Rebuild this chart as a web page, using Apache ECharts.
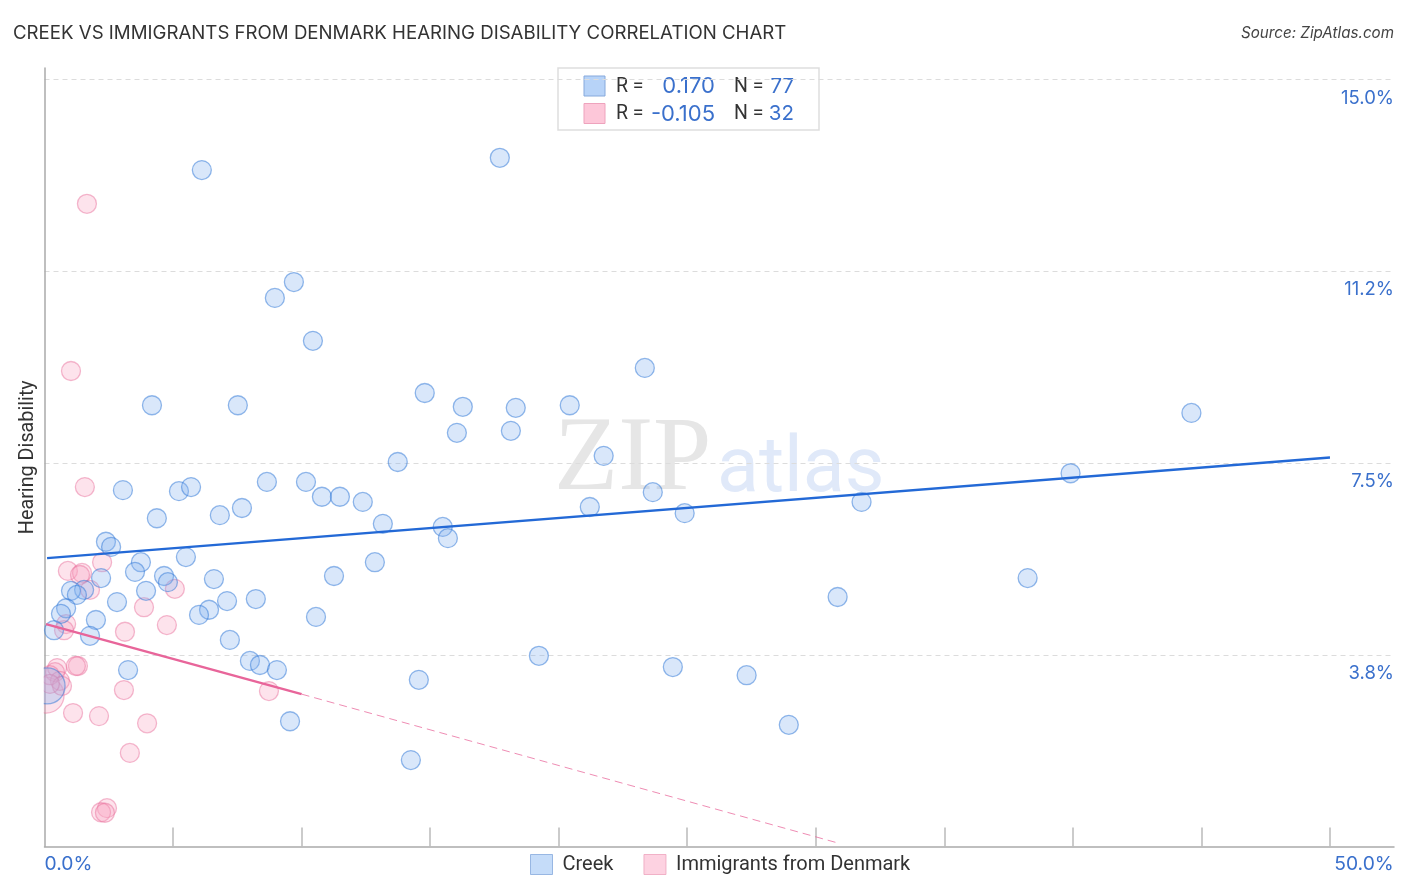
<!DOCTYPE html>
<html>
<head>
<meta charset="utf-8">
<style>
  html, body { margin: 0; padding: 0; background: #fff; }
  #main { width: 1406px; height: 892px; }
</style>
<script src="https://cdn.jsdelivr.net/npm/echarts@6/dist/echarts.min.js"></script>
</head>
<body>
<div id="main"></div>
<script>
// values: [x %, y %]
const creekPoints = [
  [6.12,13.23],[17.71,13.47],[9.70,11.04],[8.96,10.73],[10.44,9.89],[23.35,9.36],[14.79,8.87],[4.18,8.63],
  [7.52,8.63],[16.27,8.60],[18.33,8.58],[20.43,8.63],[44.61,8.48],[16.04,8.09],[18.14,8.13],[13.74,7.52],
  [21.75,7.64],[3.05,6.97],[5.23,6.95],[5.70,7.03],[8.65,7.13],[10.17,7.13],[10.79,6.84],[11.49,6.84],
  [12.38,6.74],[23.66,6.93],[39.91,7.30],[7.68,6.62],[6.82,6.48],[4.37,6.42],[21.21,6.64],[24.90,6.52],
  [31.78,6.74],[13.16,6.31],[15.49,6.25],[15.69,6.03],[2.39,5.96],[2.59,5.86],[3.75,5.56],[5.50,5.66],
  [12.85,5.56],[3.52,5.37],[4.65,5.29],[4.80,5.17],[6.59,5.23],[11.26,5.29],[38.24,5.25],[2.20,5.25],
  [3.95,5.00],[1.54,5.02],[1.03,5.00],[1.26,4.92],[0.84,4.66],[0.64,4.55],[2.82,4.78],[6.40,4.63],
  [6.01,4.53],[7.10,4.80],[8.22,4.84],[10.56,4.49],[30.85,4.88],[0.37,4.23],[2.00,4.43],[1.77,4.12],
  [7.21,4.04],[7.99,3.63],[8.38,3.55],[9.04,3.45],[3.25,3.45],[19.23,3.73],[24.44,3.51],[27.31,3.35],
  [14.56,3.26],[9.55,2.45],[28.95,2.38],[14.25,1.69]
];
const denmarkPoints = [
  [1.65,12.57],[1.03,9.30],[1.57,7.03],[2.24,5.56],[0.91,5.39],[1.46,5.35],[1.38,5.31],[1.77,5.02],
  [5.07,5.04],[3.87,4.68],[0.84,4.35],[0.76,4.23],[4.76,4.33],[3.13,4.20],[1.30,3.53],[1.22,3.53],
  [0.49,3.49],[0.41,3.41],[0.60,3.24],[0.21,3.35],[0.68,3.14],[0.21,3.18],[3.09,3.06],[8.73,3.04],
  [1.11,2.61],[2.12,2.55],[3.99,2.41],[3.32,1.83],[2.43,0.75],[2.20,0.67],[2.35,0.66]
];
// the big pooled dots on the axis
const creekBig = [[0.1,3.14]];
const denmarkBig = [[0.06,2.96]];

const creekTrend = [[0.1,5.64],[50,7.61]];
const denmarkTrend = [[0.06,4.35],[10,2.98]];
const denmarkTrendExt = [[10,2.98],[30.85,0.07]];

const yTickValues = [3.75,7.5,11.25,15];
const yTickLabels = ['3.8%','7.5%','11.2%','15.0%'];
const xTickValues = [5,10,15,20,25,30,35,40,45,50];
const xLabelValues = [0,50];
const xLabelTexts = ['0.0%','50.0%'];

const seriesNames = ['Creek','Immigrants from Denmark'];
const statR = ['0.170','-0.105'];
const statN = ['77','32'];

const chartTitle = 'CREEK VS IMMIGRANTS FROM DENMARK HEARING DISABILITY CORRELATION CHART';
const sourceText = 'Source: ZipAtlas.com';

const FONT = 'Inter, Roboto, sans-serif';
const LABEL_FONT = 'Roboto, sans-serif';
const BLUE_TEXT = '#3a70cc';
const SWATCH = [['#b7d3f8','#86a9dc'],['#fdc7d9','#eea3bd']];
const PINK_DOT = { color: 'rgba(250,165,192,0.38)', borderColor: 'rgba(232,110,155,0.6)', borderWidth: 1.3 };
const BLUE_DOT = { color: 'rgba(130,175,240,0.38)', borderColor: 'rgba(50,120,215,0.65)', borderWidth: 1.3 };

var myChart = echarts.init(document.getElementById('main'));

// stats box in the top middle
function statsBox() {
  const items = [{
    type: 'rect',
    shape: { x: 558, y: 68, width: 261, height: 62 },
    style: { fill: '#fff', stroke: '#dedede', lineWidth: 1.5 }
  }];
  [0, 1].forEach(function (i) {
    const cy = 87 + i * 27.5;
    items.push({ type: 'rect', shape: { x: 584, y: cy - 11, width: 21, height: 20 }, style: { fill: SWATCH[i][0], stroke: SWATCH[i][1], lineWidth: 1 } });
    const txt = function (x, y, text, fill, align, font) {
      return { type: 'text', x: x, y: y, style: { text: text, fill: fill, font: font, align: align, verticalAlign: 'middle' } };
    };
    items.push(txt(616, cy, 'R =', '#333', 'left', '400 19.5px ' + LABEL_FONT));
    items.push(txt(715, cy - 0.5, statR[i], BLUE_TEXT, 'right', '400 22px ' + FONT));
    items.push(txt(734, cy, 'N =', '#333', 'left', '400 19.5px ' + LABEL_FONT));
    items.push(txt(794, cy - 0.5, statN[i], BLUE_TEXT, 'right', '400 20.5px ' + FONT));
  });
  return items;
}

var option = {
  animation: false,
  textStyle: { fontFamily: FONT },
  title: [
    { text: chartTitle, left: 13, top: 24, padding: 0, textStyle: { fontFamily: FONT, fontSize: 18.65, fontWeight: 400, color: '#333' } },
    { text: sourceText, right: 12, top: 26, padding: 0, textStyle: { fontFamily: FONT, fontSize: 15.2, fontWeight: 400, fontStyle: 'italic', color: '#444' } }
  ],
  legend: {
    left: 530,
    top: 854,
    padding: 0,
    itemWidth: 22,
    itemHeight: 20,
    itemGap: 30,
    textStyle: { fontFamily: LABEL_FONT, fontSize: 20, color: '#333', padding: [0, 0, 0, 5] },
    data: [
      { name: seriesNames[0], icon: 'rect', itemStyle: { color: SWATCH[0][0], borderColor: SWATCH[0][1], borderWidth: 1 } },
      { name: seriesNames[1], icon: 'rect', itemStyle: { color: SWATCH[1][0], borderColor: SWATCH[1][1], borderWidth: 1 } }
    ]
  },
  grid: { left: 44.5, right: 12, top: 68, bottom: 45.5 },
  xAxis: {
    type: 'value',
    min: 0,
    max: 52.49,
    axisLine: { onZero: false, lineStyle: { color: '#aaa', width: 1.5 } },
    axisTick: { show: true, inside: true, length: 19, customValues: xTickValues, lineStyle: { color: '#bbb', width: 1.5 } },
    splitLine: { show: false },
    axisLabel: {
      customValues: xLabelValues,
      margin: 8,
      fontSize: 19.3,
      color: BLUE_TEXT,
      alignMinLabel: 'left',
      showMaxLabel: true,
      formatter: function (v) {
        const t = xLabelTexts[xLabelValues.indexOf(v)];
        return v === 50 ? '{end|' + t + '}' : t;
      },
      rich: { end: { fontSize: 19.3, color: BLUE_TEXT, padding: [0, 0, 0, 68] } }
    }
  },
  yAxis: [
    {
      type: 'value',
      min: 0,
      max: 15.226,
      name: 'Hearing Disability',
      nameLocation: 'middle',
      nameGap: 6,
      nameTextStyle: { fontFamily: LABEL_FONT, fontSize: 19.8, color: '#333' },
      axisLine: { show: true, lineStyle: { color: '#aaa', width: 1.5 } },
      axisTick: { show: false, customValues: yTickValues },
      axisLabel: { show: false, customValues: yTickValues },
      splitLine: { show: true, lineStyle: { color: '#dcdcdc', type: [5, 4], width: 1 } }
    },
    {
      type: 'value',
      position: 'right',
      min: 0,
      max: 15.226,
      axisLine: { show: false },
      axisTick: { show: false, customValues: yTickValues },
      splitLine: { show: false },
      axisLabel: {
        inside: true,
        margin: 0,
        customValues: yTickValues,
        fontSize: 18.5,
        color: BLUE_TEXT,
        verticalAlign: 'top',
        padding: [9, 0, 0, 0],
        formatter: function (v) { return yTickLabels[yTickValues.indexOf(v)]; }
      }
    }
  ],
  series: [
    {
      name: seriesNames[1],
      type: 'scatter',
      data: denmarkBig,
      symbolSize: 36,
      itemStyle: PINK_DOT,
      z: 2
    },
    {
      name: seriesNames[1],
      type: 'scatter',
      data: denmarkPoints,
      symbolSize: 19,
      itemStyle: PINK_DOT,
      z: 3
    },
    {
      name: seriesNames[0],
      type: 'scatter',
      data: creekPoints,
      symbolSize: 19,
      itemStyle: BLUE_DOT,
      z: 4
    },
    {
      name: seriesNames[0],
      type: 'scatter',
      data: creekBig,
      symbolSize: 36,
      itemStyle: BLUE_DOT,
      z: 4
    },
    {
      type: 'line',
      data: creekTrend,
      symbol: 'none',
      lineStyle: { color: '#2369d6', width: 2.5 },
      z: 5
    },
    {
      type: 'line',
      data: denmarkTrend,
      symbol: 'none',
      lineStyle: { color: '#e8659a', width: 2.5 },
      z: 5
    },
    {
      type: 'line',
      data: denmarkTrendExt,
      symbol: 'none',
      lineStyle: { color: '#e8659a', width: 1, type: [8, 5], opacity: 0.75 },
      z: 5
    },
    {
      // dots get no clipping of their own, hide what hangs over the axis
      type: 'custom',
      coordinateSystem: 'cartesian2d',
      data: [[0, 3]],
      silent: true,
      z: 6,
      renderItem: function (params, api) {
        const edge = params.coordSys.x;
        const mid = api.coord([0, 3])[1];
        return {
          type: 'rect',
          shape: { x: 0, y: mid - 45, width: edge - 0.75, height: 90 },
          style: { fill: '#fff' }
        };
      }
    }
  ],
  graphic: [
    { type: 'text', z: 0, x: 554, y: 461, style: { text: 'ZIP', fill: '#e6e6e6', font: '400 105px "Liberation Serif", serif', verticalAlign: 'middle' } },
    { type: 'text', z: 0, x: 717, y: 472, style: { text: 'atlas', fill: '#e0e9f9', font: '400 77px ' + LABEL_FONT, verticalAlign: 'middle' } }
  ].concat(statsBox())
};

myChart.setOption(option);
</script>
</body>
</html>
